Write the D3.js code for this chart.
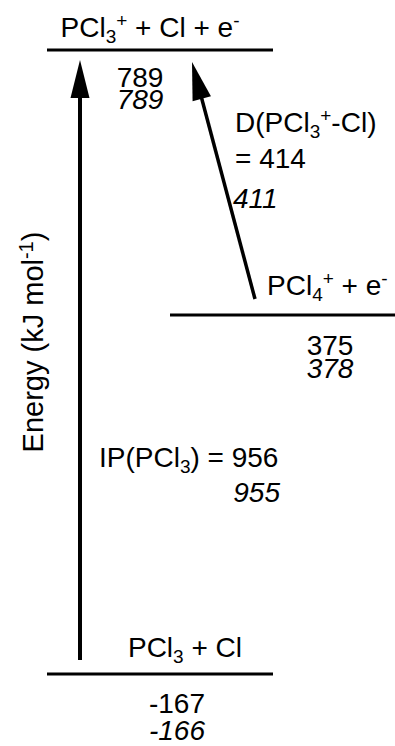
<!DOCTYPE html>
<html>
<head>
<meta charset="utf-8">
<script src="https://cdnjs.cloudflare.com/ajax/libs/d3/7.8.5/d3.min.js"></script>
<style>
  html, body { margin: 0; padding: 0; background: #fff; }
  svg { display: block; }
  text { font-family: "Liberation Sans", Arial, Helvetica, sans-serif; fill: #000; }
</style>
</head>
<body>
<svg id="chart" width="395" height="746"></svg>
<script>
// ---- data ----
const levelNames = ["PCl3 + Cl", "PCl4+ + e-", "PCl3+ + Cl + e-"];
const levelExp = [-167, 375, 789];
const levelCalc = [-166, 378, 789];
const transitionNames = ["IP(PCl3)", "D(PCl3+-Cl)"];
const transitionExp = [956, 414];
const transitionCalc = [955, 411];
const axisLabel = "Energy (kJ mol-1)";

// ---- layout ----
const W = 395, H = 746;
const svg = d3.select("#chart");
const y = d3.scaleLinear().domain(levelExp).range([674, 315, 50]);
const levelX = [[47, 273], [170, 395], [47, 273]];
const FS = 28, SFS = 19;

// rich text segments: [text, mode] mode: 0 normal, 1 sub, 2 sup
function rich(x, yy, anchor, segs, italic) {
  const t = svg.append("text").attr("x", x).attr("y", yy)
    .attr("text-anchor", anchor).attr("font-size", FS)
    .attr("font-style", italic ? "italic" : "normal");
  let cur = 0;
  const off = [0, 6, -10];
  segs.forEach(([s, m]) => {
    const ts = t.append("tspan").text(s).attr("dy", off[m] - cur);
    if (m) ts.attr("font-size", SFS);
    cur = off[m];
  });
  return t;
}

// levels
svg.selectAll("line.level").data(levelExp).enter().append("line")
  .attr("class", "level")
  .attr("x1", (d, i) => levelX[i][0]).attr("x2", (d, i) => levelX[i][1])
  .attr("y1", d => y(d)).attr("y2", d => y(d))
  .attr("stroke", "#000").attr("stroke-width", 3);

// arrows
function arrow(x1, y1, x2, y2, sw) {
  const dx = x2 - x1, dy = y2 - y1, L = Math.hypot(dx, dy);
  const ux = dx / L, uy = dy / L;
  const hl = 38, hw = 9.5;
  const bx = x2 - ux * hl, by = y2 - uy * hl;
  svg.append("line").attr("x1", x1).attr("y1", y1)
    .attr("x2", bx + ux * 2).attr("y2", by + uy * 2)
    .attr("stroke", "#000").attr("stroke-width", sw);
  svg.append("path")
    .attr("d", `M${x2},${y2}L${bx - uy * hw},${by + ux * hw}L${bx + uy * hw},${by - ux * hw}Z`)
    .attr("fill", "#000");
}
arrow(80, y(levelExp[0]) - 14, 80, y(levelExp[2]) + 10, 4);
arrow(255, y(levelExp[1]) - 16, 192, y(levelExp[2]) + 12, 3.5);

// level labels
rich(150, 37, "middle", [["PCl", 0], ["3", 1], ["+", 2], [" + Cl + e", 0], ["-", 2]]);
rich(140, 87, "middle", [[String(levelExp[2]), 0]]);
rich(140, 109, "middle", [[String(levelCalc[2]), 0]], true);

rich(267, 295, "start", [["PCl", 0], ["4", 1], ["+", 2], [" + e", 0], ["-", 2]]);
rich(330, 355, "middle", [[String(levelExp[1]), 0]]);
rich(330, 378, "middle", [[String(levelCalc[1]), 0]], true);

rich(185, 657, "middle", [["PCl", 0], ["3", 1], [" + Cl", 0]]);
rich(177, 713, "middle", [[String(levelExp[0]), 0]]);
rich(177, 740, "middle", [[String(levelCalc[0]), 0]], true);

// transition labels
rich(99, 467, "start", [["IP(PCl", 0], ["3", 1], [") = " + transitionExp[0], 0]]);
rich(280, 502, "end", [[String(transitionCalc[0]), 0]], true);

rich(235, 132, "start", [["D(PCl", 0], ["3", 1], ["+", 2], ["-Cl)", 0]]);
rich(235, 168, "start", [["= " + transitionExp[1], 0]]);
rich(233, 208, "start", [[String(transitionCalc[1]), 0]], true);

// axis label
const ax = svg.append("text").attr("font-size", 29).attr("text-anchor", "middle")
  .attr("transform", "translate(43,342) rotate(-90)");
ax.append("tspan").text("Energy (kJ mol");
ax.append("tspan").text("-1").attr("font-size", 20).attr("dy", -10);
ax.append("tspan").text(")").attr("dy", 10);
</script>
</body>
</html>
